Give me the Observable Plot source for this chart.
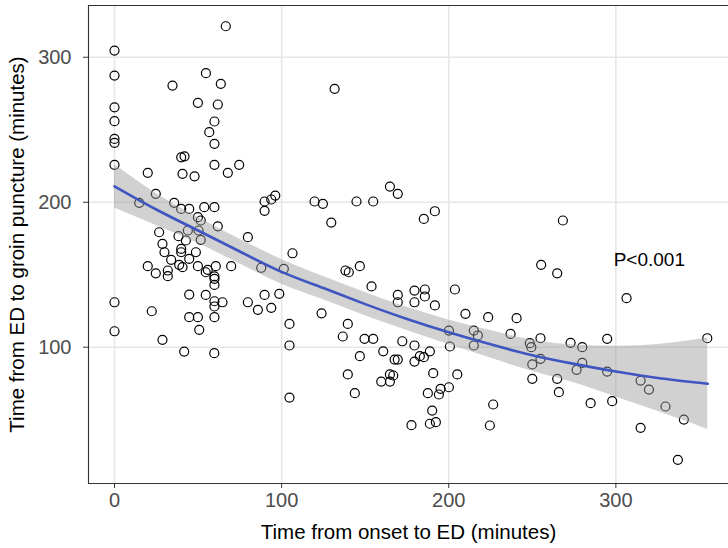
<!DOCTYPE html>
<html>
<head>
<meta charset="utf-8">
<script src="https://cdn.jsdelivr.net/npm/d3@7"></script>
<script src="https://cdn.jsdelivr.net/npm/@observablehq/plot@0.6"></script>
<style>
  html, body { margin: 0; padding: 0; background: #ffffff; overflow: hidden; }
  #chart svg { display: block; }
</style>
</head>
<body>
<div id="chart"></div>
<script>
// Scatter points: time from onset to ED (x) and ED to groin puncture (y), minutes
const onsetToED = [
  0, 0, 0, 0, 0, 0, 0, 0, 0,
  66.6, 54.7, 34.7, 63.6, 49.9, 61.8, 59.8, 56.7, 59.8, 39.9, 41.9, 59.8, 74.6, 19.9, 40.7, 47.9, 67.8,
  24.7, 14.8, 35.7, 39.9, 44.7, 53.7, 59.8, 89.8, 93.8, 96.2, 89.8, 49.9, 51.6, 61.8, 26.7, 38.3, 43.9,
  50.3, 42.7, 51.6, 79.8, 28.7,
  39.9, 39.9, 48.7, 29.9, 33.9, 44.7, 38.7, 40.7, 19.9, 49.9, 55.8, 60.6, 69.8, 24.7, 31.9, 31.9, 54.6,
  59.8, 59.8, 59.8, 87.8, 44.7, 54.6, 59.8, 64.6, 59.8, 79.8, 85.8, 89.8, 93.8, 98.6, 22.3, 44.7, 49.9,
  59.8, 50.7, 28.7, 41.7, 59.7, 104.7, 104.7, 104.7, 106.5, 101.3,
  131.7, 119.7, 124.7, 129.7, 144.8, 154.8, 164.8, 169.5, 185.1, 191.7,
  138.2, 140.2, 146.8, 153.8, 123.9, 139.6, 136.6, 149.6, 154.8, 146.8, 139.6, 143.8, 160.8, 167.6, 169.5,
  164.8, 166.8, 159.6, 164.8, 169.5, 169.5, 179.5, 179.5, 185.7, 185.7, 191.7, 172.2, 179.5, 182.7, 185.1,
  188.7, 179.5, 190.7, 187.5, 194.1, 195.1, 200.1, 205.1, 190.1, 188.7, 192.3, 177.7, 203.7, 210, 200.1,
  200.7, 215, 217.4, 215, 223.6, 226.6, 224.6,
  255.3, 264.9, 306.4, 240.6, 237, 248.5, 249.4, 254.9, 254.9, 250, 250, 272.9, 279.9, 279.9, 276.5,
  294.8, 294.8, 264.9, 265.9, 284.9, 297.8, 314.8, 319.8, 329.7, 340.7, 314.8, 337.1, 354.7, 268.3
];
const edToPuncture = [
  304.6, 287.4, 265.5, 255.9, 243.7, 241, 225.8, 131, 111,
  321.4, 289, 280.5, 281.7, 268.6, 267.4, 255.7, 248.3, 240.3, 231, 231.7, 225.8, 225.8, 220.3, 219.6, 217.9, 220.3,
  205.8, 199.6, 199.6, 195.4, 195.4, 196.6, 196.6, 200.5, 201.9, 204.6, 194.1, 189.7, 187.4, 183.4, 179.3, 176.6, 180.5,
  180.5, 173.6, 174.1, 175.9, 171.3,
  167.9, 165.5, 165.5, 165.5, 160.3, 161, 156.8, 155.2, 155.9, 155.9, 153.4, 155.9, 155.9, 151, 152.9, 149, 151.7,
  148.8, 147.2, 143, 154.8, 136.3, 136.1, 131.7, 131, 128.1, 131, 125.8, 136.1, 127.2, 136.8, 124.8, 120.7, 120.7,
  120.7, 112, 105.1, 97, 95.9, 116.1, 101.2, 65.3, 164.8, 154.1,
  278.2, 200.5, 198.9, 186, 200.5, 200.5, 210.8, 205.8, 188.5, 193.8,
  152.9, 151.7, 155.9, 141.9, 123.4, 116.1, 107.4, 105.8, 105.8, 93.8, 81.2, 68.3, 97.2, 91.5, 91.5,
  81.2, 80.5, 76.3, 76.3, 136.1, 131, 139.1, 131, 139.8, 135, 128.8, 104.1, 101.2, 93.8, 93.1,
  97.2, 90.1, 82.1, 68.3, 67.4, 71.3, 72.4, 81.2, 56.3, 47.2, 48.3, 46.2, 139.8, 123, 111.5,
  100.5, 111.5, 108.1, 101.2, 120.7, 60.5, 46,
  156.8, 151, 133.8, 120, 109.2, 102.8, 100, 106.2, 92, 88.1, 78.2, 103, 100, 89.2, 84.4,
  105.8, 83.2, 78.2, 69, 61.4, 62.8, 77, 70.8, 59.1, 50.1, 44.4, 22.3, 106.2, 187.4
];

// Fitted smooth and its confidence band
const fitX    = [0,   25,  50,    75,    100,   125,   150,   175,   200,   225,  250,  275,   300,   325,   355];
const fitY    = [211, 195, 180.5, 166,   152,   140.8, 129.7, 119.5, 110.3, 102,  94.5, 88.5,  83.2,  78.8,  74.8];
const fitLow  = [196, 184, 171.5, 157.5, 143.5, 132.8, 121.7, 111.5, 101.8, 92.5, 83.5, 75.5,  65.7,  55.8,  43.3];
const fitHigh = [226, 206, 189.5, 174.5, 160.5, 148.8, 137.7, 127.5, 118.8, 111.5,105,  101.5, 100.7, 101.8, 106.3];

// Axes
const xTicks = [0, 100, 200, 300];
const yTicks = [100, 200, 300];
const xTitle = "Time from onset to ED (minutes)";
const yTitle = "Time from ED to groin puncture (minutes)";
const annotation = {x: 320, y: 160, label: "P<0.001"};

const points = onsetToED.map((x, i) => ({x, y: edToPuncture[i]}));
const fit = fitX.map((x, i) => ({x, y: fitY[i], lo: fitLow[i], hi: fitHigh[i]}));

const xDomain = [-15.56, 367.4];
const yDomain = [6, 335.7];
const font = "'Liberation Sans', Arial, sans-serif";

const chart = Plot.plot({
  width: 728,
  height: 548,
  marginLeft: 88,
  marginRight: 0,
  marginTop: 5,
  marginBottom: 65,
  style: {fontFamily: font, background: "#ffffff", overflow: "hidden"},
  x: {domain: xDomain},
  y: {domain: yDomain},
  marks: [
    Plot.gridX(xTicks, {stroke: "#e6e6e6", strokeOpacity: 1, strokeWidth: 1.6}),
    Plot.gridY(yTicks, {stroke: "#e6e6e6", strokeOpacity: 1, strokeWidth: 1.6}),
    Plot.dot(points, {x: "x", y: "y", r: 4.5, stroke: "#000000", strokeWidth: 1.2, fill: "none"}),
    Plot.areaY(fit, {x: "x", y1: "lo", y2: "hi", fill: "#999999", fillOpacity: 0.45, curve: "natural"}),
    Plot.line(fit, {x: "x", y: "y", stroke: "#3f56c0", strokeWidth: 2.6, curve: "natural"}),
    Plot.ruleX([xDomain[0]], {stroke: "#333333", strokeWidth: 1.1}),
    Plot.ruleY([yDomain[0], yDomain[1]], {stroke: "#333333", strokeWidth: 1.1}),
    Plot.axisX(xTicks, {tickSize: 5, tickPadding: 4, fontSize: 20, color: "#4d4d4d", stroke: "#333333", label: null}),
    Plot.axisY(yTicks, {tickSize: 5, tickPadding: 12, fontSize: 20, color: "#4d4d4d", stroke: "#333333", label: null}),
    Plot.text([annotation], {x: "x", y: "y", text: "label", fontSize: 19, fill: "#000000", textAnchor: "middle"}),
    Plot.text([xTitle], {frameAnchor: "bottom", dy: 49, lineAnchor: "middle", fontSize: 20.5, fill: "#000000"}),
    Plot.text([yTitle], {frameAnchor: "left", dx: -71, rotate: -90, textAnchor: "middle", lineAnchor: "middle", fontSize: 20.5, fill: "#000000"})
  ]
});
document.getElementById("chart").appendChild(chart);
</script>
</body>
</html>
